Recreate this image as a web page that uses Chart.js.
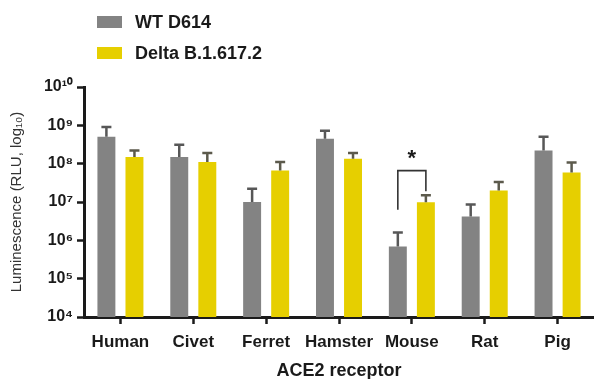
<!DOCTYPE html>
<html>
<head>
<meta charset="utf-8">
<script src="https://cdn.jsdelivr.net/npm/chart.js@4.4.1/dist/chart.umd.min.js"></script>
<style>
  html, body { margin: 0; padding: 0; background: #fff; }
  #wrap { width: 594px; height: 379px; }
</style>
</head>
<body>
<div id="wrap"><canvas id="chart" width="594" height="379"></canvas></div>
<script>
// data
const receptors = ['Human', 'Civet', 'Ferret', 'Hamster', 'Mouse', 'Rat', 'Pig'];
const wtLabel = 'WT D614';
const deltaLabel = 'Delta B.1.617.2';
const wtMean = [5.0e8, 1.5e8, 1.0e7, 4.5e8, 6.9e5, 4.2e6, 2.2e8];
const wtErrTop = [9.0e8, 3.1e8, 2.2e7, 7.2e8, 1.6e6, 8.6e6, 5.0e8];
const deltaMean = [1.5e8, 1.1e8, 6.6e7, 1.35e8, 9.8e6, 2.0e7, 5.9e7];
const deltaErrTop = [2.2e8, 1.9e8, 1.1e8, 1.9e8, 1.5e7, 3.3e7, 1.07e8];
const yTickValues = [1e4, 1e5, 1e6, 1e7, 1e8, 1e9, 1e10];
const yTickLabels = ['10⁴', '10⁵', '10⁶', '10⁷', '10⁸', '10⁹', '10¹⁰'];
// significance bracket (Mouse, WT vs Delta)
const sigCategory = 'Mouse';
const sigText = '*';

const GREY = '#838383';
const YELLOW = '#e6cf00';
const INK = '#1a1a1a';

// error bars, legend, significance bracket
const extrasPlugin = {
    id: 'extras',
    afterDatasetsDraw(chart) {
        const ctx = chart.ctx;
        const y = chart.scales.y;
        const errs = [wtErrTop, deltaErrTop];
        const errColors = ['#575757', '#5c5a4c'];

        ctx.save();
        errs.forEach((err, d) => {
            const meta = chart.getDatasetMeta(d);
            meta.data.forEach((bar, i) => {
                const yTop = y.getPixelForValue(err[i]);
                ctx.strokeStyle = errColors[d];
                ctx.lineWidth = 2.5;
                ctx.beginPath();
                ctx.moveTo(bar.x, bar.y);
                ctx.lineTo(bar.x, yTop);
                ctx.moveTo(bar.x - 5, yTop);
                ctx.lineTo(bar.x + 5, yTop);
                ctx.stroke();
            });
        });

        // bracket
        const idx = receptors.indexOf(sigCategory);
        const xL = chart.getDatasetMeta(0).data[idx].x;
        const xR = chart.getDatasetMeta(1).data[idx].x;
        const top = y.getPixelForValue(6.6e7);
        ctx.strokeStyle = '#333';
        ctx.lineWidth = 1.6;
        ctx.beginPath();
        ctx.moveTo(xL, y.getPixelForValue(6.3e6));
        ctx.lineTo(xL, top);
        ctx.lineTo(xR, top);
        ctx.lineTo(xR, y.getPixelForValue(1.9e7));
        ctx.stroke();
        ctx.fillStyle = INK;
        ctx.font = 'bold 22px "Liberation Sans", Arial, sans-serif';
        ctx.textAlign = 'center';
        ctx.textBaseline = 'middle';
        ctx.fillText(sigText, (xL + xR) / 2, top - 12);

        // legend
        const items = [[wtLabel, GREY, 22], [deltaLabel, YELLOW, 53]];
        ctx.font = 'bold 18px "Liberation Sans", Arial, sans-serif';
        ctx.textAlign = 'left';
        items.forEach(([txt, col, cy]) => {
            ctx.fillStyle = col;
            ctx.fillRect(97, cy - 6, 25, 12);
            ctx.fillStyle = INK;
            ctx.fillText(txt, 135, cy + 1);
        });
        ctx.restore();
    }
};

new Chart(document.getElementById('chart'), {
    type: 'bar',
    data: {
        labels: receptors,
        datasets: [
            { label: wtLabel, data: wtMean, backgroundColor: GREY },
            { label: deltaLabel, data: deltaMean, backgroundColor: YELLOW }
        ]
    },
    options: {
        responsive: false,
        animation: false,
        devicePixelRatio: 1,
        categoryPercentage: 0.77,
        barPercentage: 0.64,
        layout: { padding: { top: 87, right: 0, left: 0, bottom: 0 } },
        plugins: {
            legend: { display: false },
            tooltip: { enabled: false }
        },
        scales: {
            x: {
                afterFit(scale) { scale.height = 62; },
                grid: {
                    offset: false,
                    drawOnChartArea: false,
                    tickLength: 7,
                    tickWidth: 2.5,
                    tickColor: INK
                },
                border: { display: true, color: INK, width: 3 },
                ticks: {
                    color: INK,
                    padding: 8,
                    autoSkip: false,
                    maxRotation: 0,
                    minRotation: 0,
                    font: { family: '"Liberation Sans", Arial, sans-serif', size: 17, weight: 'bold' }
                },
                title: {
                    display: true,
                    text: 'ACE2 receptor',
                    color: INK,
                    padding: { top: 0, bottom: -3 },
                    font: { family: '"Liberation Sans", Arial, sans-serif', size: 18, weight: 'bold' }
                }
            },
            y: {
                type: 'logarithmic',
                min: yTickValues[0],
                max: yTickValues[yTickValues.length - 1],
                afterFit(scale) { scale.width = 84; },
                afterBuildTicks(scale) {
                    scale.ticks = yTickValues.map(v => ({ value: v }));
                },
                grid: {
                    drawOnChartArea: false,
                    tickLength: 7,
                    tickWidth: 2.5,
                    tickColor: INK
                },
                border: { display: true, color: INK, width: 3 },
                ticks: {
                    color: INK,
                    padding: 4,
                    font: { family: '"Liberation Sans", Arial, sans-serif', size: 16, weight: 'bold' },
                    callback: (v) => {
                        const k = yTickValues.indexOf(v);
                        return k >= 0 ? yTickLabels[k] : '';
                    }
                },
                title: {
                    display: true,
                    text: 'Luminescence (RLU, log₁₀)',
                    color: '#333',
                    padding: { top: 8, bottom: 0 },
                    font: { family: '"Liberation Sans", Arial, sans-serif', size: 15 }
                }
            }
        }
    },
    plugins: [extrasPlugin]
});
</script>
</body>
</html>
